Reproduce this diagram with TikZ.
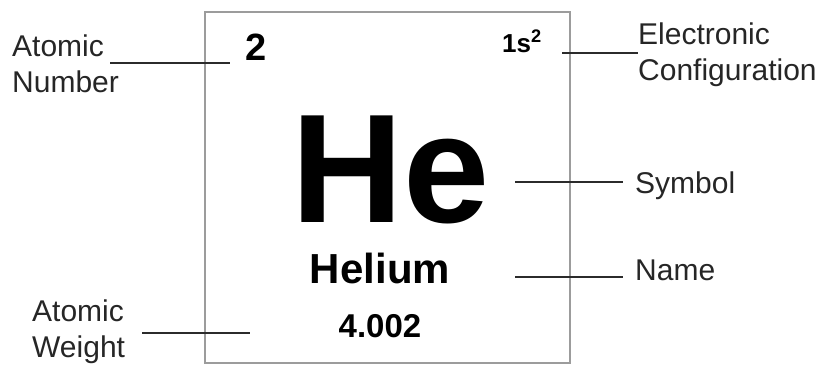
\documentclass[tikz,border=0pt]{standalone}
\usepackage{fontspec}
\setmainfont{Liberation Sans}
\setsansfont{Liberation Sans}
\definecolor{tileGray}{HTML}{9C9C9C}
\definecolor{leaderBlack}{HTML}{2B2B2B}
\definecolor{calloutGray}{HTML}{262626}
\tikzset{
  font=\sffamily,
  tile/.style={draw=tileGray, line width=2.2pt},
  leader/.style={draw=leaderBlack, line width=1.8pt},
  callout/.style={anchor=base west, inner sep=0pt, align=left, text=calloutGray, font=\sffamily\fontsize{30}{36}\selectfont},
  symbolText/.style={anchor=base, inner sep=0pt, text depth=0pt, font=\sffamily\bfseries\fontsize{155}{155}\selectfont},
  nameText/.style={anchor=base, inner sep=0pt, font=\sffamily\bfseries\fontsize{42}{42}\selectfont},
  weightText/.style={anchor=base, inner sep=0pt, font=\sffamily\bfseries\fontsize{33}{33}\selectfont},
  numberText/.style={anchor=base west, inner sep=0pt, font=\sffamily\bfseries\fontsize{38}{38}\selectfont},
  configText/.style={anchor=base west, inner sep=0pt, font=\sffamily\bfseries\fontsize{26}{26}\selectfont}
}

\begin{document}
\begin{tikzpicture}[x=1pt,y=-1pt]
\useasboundingbox (0,0) rectangle (830,365);

% element tile
\draw[tile] (205,12) rectangle (570,363);

\node[numberText] (heNumber) at (245,60) {2};
\node[configText] (heConfig) at (502,52) {1s\textsuperscript{2}};
\node[symbolText] (heSymbol) at (391,222) {He};
\node[nameText] (heName) at (380,283) {Helium};
\node[weightText] (heWeight) at (380,337) {4.002};

% callouts (base = last line)
\node[callout] (numberLabel) at (12,92) {Atomic\\Number};
\node[callout] (configLabel) at (638,80) {Electronic\\Configuration};
\node[callout] (symbolLabel) at (635,193) {Symbol};
\node[callout] (nameLabel) at (635,280) {Name};
\node[callout] (weightLabel) at (32,357) {Atomic\\Weight};

% leader lines
\coordinate (numberStart) at (110,63);
\coordinate (numberEnd) at (230,63);
\coordinate (configStart) at (562,53);
\coordinate (symbolStart) at (515,182);
\coordinate (nameStart) at (515,277);
\coordinate (weightStart) at (142,333);
\coordinate (weightEnd) at (250,333);

\draw[leader] (numberStart) -- (numberEnd);
\draw[leader] (configStart) -- (configStart -| configLabel.west);
\draw[leader] (symbolStart) -- ([xshift=-12pt]symbolStart -| symbolLabel.west);
\draw[leader] (nameStart) -- ([xshift=-12pt]nameStart -| nameLabel.west);
\draw[leader] (weightStart) -- (weightEnd);

\end{tikzpicture}
\end{document}
